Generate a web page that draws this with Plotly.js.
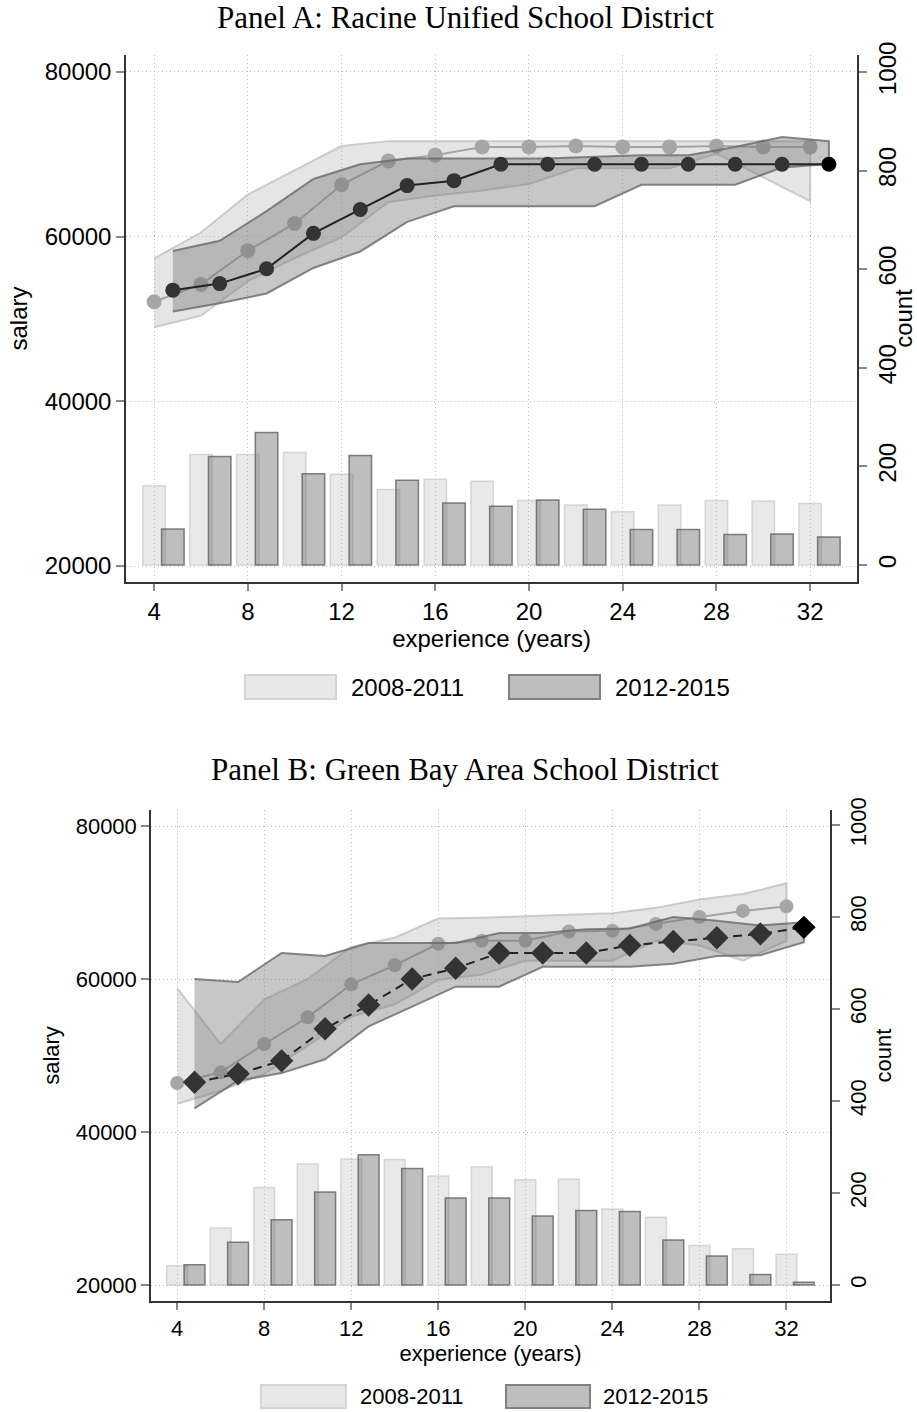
<!DOCTYPE html>
<html>
<head>
<meta charset="utf-8">
<script src="https://cdn.plot.ly/plotly-3.0.1.min.js"></script>
<style>html,body{margin:0;padding:0;background:#fff;}#chart{width:917px;height:1412px;}</style>
</head>
<body>
<div id="chart"></div>
<script>
// ---------- DATA ----------
const years0811 = [4,6,8,10,12,14,16,18,20,22,24,26,28,30,32];
const years1215 = [5,7,9,11,13,15,17,19,21,23,25,27,29,31,33];
const xTicks = [4,8,12,16,20,24,28,32];
const salaryTicks = [20000,40000,60000,80000];
const countTicks = [0,200,400,600,800,1000];
const periodLabels = ['2008-2011','2012-2015'];

// Panel A: Racine Unified School District
const aSal0811 = [52100,54200,58300,61600,66300,69200,69900,70900,70900,71000,70900,70900,71000,70900,70900];
const aLo0811  = [49000,50400,54600,57400,59900,64200,65000,65600,66400,68300,68300,68300,70100,67200,64300];
const aHi0811  = [57350,60500,65100,68000,71000,71600,71600,71600,71600,71600,71600,71600,71600,71600,71600];
const aSal1215 = [53500,54300,56100,60400,63300,66200,66800,68800,68800,68800,68800,68800,68800,68800,68800];
const aLo1215  = [50900,51900,53100,56200,58200,61800,63700,63700,63700,63700,66300,66300,66300,68400,68800];
const aHi1215  = [58250,59500,63100,67000,68800,69500,69500,69500,69500,69700,69900,69900,70900,72100,71600];
const aCount0811 = [161,224,224,228,184,153,174,170,131,122,108,122,131,130,125];
const aCount1215 = [73,220,269,185,222,172,126,119,132,113,72,72,62,63,57];

// Panel B: Green Bay Area School District
const bSal0811 = [46400,47800,51500,55000,59300,61800,64600,65000,65000,66200,66300,67200,68100,68900,69500];
const bLo0811  = [43700,45400,47600,51300,55100,56700,59900,60600,62400,62400,62400,65000,64400,62400,65000];
const bHi0811  = [58800,51500,57300,60000,64200,65400,67900,68000,68200,68400,68600,69300,70400,71100,72500];
const bSal1215 = [46500,47600,49300,53500,56600,60000,61400,63400,63400,63400,64400,64900,65400,65900,66750];
const bLo1215  = [43100,46700,47700,49500,53800,56400,59000,59000,61600,61600,61600,62000,63000,63100,64800];
const bHi1215  = [60000,59600,63400,63000,64700,64700,64700,66000,66000,66500,66600,68100,67600,67000,67400];
const bCount0811 = [42,124,212,263,274,273,237,257,229,230,165,147,86,79,67];
const bCount1215 = [44,93,142,202,283,253,189,189,150,162,160,98,63,23,6];

// ---------- STYLE ----------
const SHIFT_1215 = -0.2;           // display offset of the 2012-2015 series
const SANS = 'Liberation Sans, Arial, sans-serif';
const SERIF = 'Liberation Serif, Times New Roman, serif';
const W = 917, H = 1412;

const x1215 = years1215.map(v => v + SHIFT_1215);

function band(xs, lo, hi, fill, line, xa, ya) {
  return {
    type: 'scatter', mode: 'lines', xaxis: xa, yaxis: ya,
    x: xs.concat(xs.slice().reverse()),
    y: hi.concat(lo.slice().reverse()),
    fill: 'toself', fillcolor: fill,
    line: {color: line, width: 2}, hoverinfo: 'skip', showlegend: false
  };
}
function bars(xs, ys, fill, line, xa, ya) {
  return {type: 'bar', x: xs, y: ys, xaxis: xa, yaxis: ya, width: 0.96,
    marker: {color: fill, line: {color: line, width: 1.5}}, showlegend: false};
}
function lastBlack(arr, base) { return arr.map((_, i) => i === arr.length - 1 ? '#000' : base); }

const LIGHT_BAR = 'rgba(175,175,175,0.28)', LIGHT_BAR_LINE = 'rgba(190,190,190,0.55)';
const DARK_BAR = 'rgba(110,110,110,0.45)', DARK_BAR_LINE = 'rgba(90,90,90,0.75)';
const LIGHT_BAND = 'rgba(170,170,170,0.30)', LIGHT_BAND_LINE = 'rgba(195,195,195,0.85)';
const DARK_BAND = 'rgba(115,115,115,0.40)', DARK_BAND_LINE = 'rgba(105,105,105,0.8)';

function panel(xa, ya, yc, sal0811, lo0811, hi0811, sal1215, lo1215, hi1215, n0811, n1215, dashed) {
  return [
    bars(years0811, n0811, LIGHT_BAR, LIGHT_BAR_LINE, xa, yc),
    bars(x1215, n1215, DARK_BAR, DARK_BAR_LINE, xa, yc),
    band(years0811, lo0811, hi0811, LIGHT_BAND, LIGHT_BAND_LINE, xa, ya),
    {type: 'scatter', mode: 'lines+markers', x: years0811, y: sal0811, xaxis: xa, yaxis: ya,
      line: {color: '#a3a3a3', width: 2}, marker: {color: '#a6a6a6', size: dashed ? 14 : 15, symbol: 'circle'},
      showlegend: false},
    band(x1215, lo1215, hi1215, DARK_BAND, DARK_BAND_LINE, xa, ya),
    {type: 'scatter', mode: 'lines+markers', x: x1215, y: sal1215, xaxis: xa, yaxis: ya,
      line: {color: '#222', width: 2, dash: dashed ? '9px,6px' : 'solid'},
      marker: {color: lastBlack(sal1215, '#333'), size: dashed ? 18 : 15, symbol: dashed ? 'diamond' : 'circle'},
      showlegend: false}
  ];
}

const data = [].concat(
  panel('x', 'y', 'y2', aSal0811, aLo0811, aHi0811, aSal1215, aLo1215, aHi1215, aCount0811, aCount1215, false),
  panel('x2', 'y3', 'y4', bSal0811, bLo0811, bHi0811, bSal1215, bLo1215, bHi1215, bCount0811, bCount1215, true)
);

const GRID = {showgrid: true, gridcolor: '#bdbdbd', griddash: '1px,3px', gridwidth: 1};

function xAxis(domain, anchor, fs) {
  return Object.assign({domain: domain, anchor: anchor, range: [2.8, 34.0], tickvals: xTicks,
    showline: true, linecolor: '#333', linewidth: 1.5, zeroline: false,
    ticks: 'outside', ticklen: 7, tickwidth: 1.5, tickcolor: '#888',
    tickfont: {family: SANS, size: fs, color: '#000'},
    title: {text: 'experience (years)', font: {family: SANS, size: fs, color: '#000'}, standoff: 3},
    automargin: false}, GRID);
}
function salAxis(domain, anchor, range, fs) {
  return Object.assign({domain: domain, anchor: anchor, range: range, tickvals: salaryTicks, tickformat: 'd',
    showline: true, linecolor: '#333', linewidth: 1.5, zeroline: false,
    ticks: 'outside', ticklen: 8, tickwidth: 1.5, tickcolor: '#888',
    tickfont: {family: SANS, size: fs, color: '#000'},
    title: {text: 'salary', font: {family: SANS, size: fs, color: '#000'}, standoff: 10},
    automargin: false}, GRID);
}
function cntAxis(anchor, over, range, fs, standoff) {
  return {anchor: anchor, overlaying: over, side: 'right', range: range, tickvals: countTicks,
    tickangle: -90, showgrid: false, zeroline: false,
    showline: true, linecolor: '#333', linewidth: 1.5,
    ticks: 'outside', ticklen: 8, tickwidth: 1.5, tickcolor: '#888',
    tickfont: {family: SANS, size: fs, color: '#000'},
    title: {text: 'count', font: {family: SANS, size: fs, color: '#000'}, standoff: standoff},
    automargin: false};
}

const aDomX = [126 / W, 857 / W], aDomY = [1 - 582 / H, 1 - 55 / H];
const bDomX = [151 / W, 830 / W], bDomY = [1 - 1301 / H, 1 - 810 / H];

function legendKeys(y0, y1, l0, l1, d0, d1, t0, t1, fs) {
  const shapes = [
    {type: 'rect', xref: 'paper', yref: 'paper', x0: l0 / W, x1: l1 / W, y0: 1 - y1 / H, y1: 1 - y0 / H,
      fillcolor: '#e8e8e8', line: {color: '#d4d4d4', width: 2}},
    {type: 'rect', xref: 'paper', yref: 'paper', x0: d0 / W, x1: d1 / W, y0: 1 - y1 / H, y1: 1 - y0 / H,
      fillcolor: '#bebebe', line: {color: '#808080', width: 2}}
  ];
  const ann = [
    {xref: 'paper', yref: 'paper', x: t0 / W, y: 1 - (y0 + y1) / 2 / H, xanchor: 'left', yanchor: 'middle',
      text: periodLabels[0], showarrow: false, font: {family: SANS, size: fs, color: '#000'}},
    {xref: 'paper', yref: 'paper', x: t1 / W, y: 1 - (y0 + y1) / 2 / H, xanchor: 'left', yanchor: 'middle',
      text: periodLabels[1], showarrow: false, font: {family: SANS, size: fs, color: '#000'}}
  ];
  return {shapes, ann};
}
const legA = legendKeys(675, 699, 245, 336, 509, 600, 349, 613, 24);
const legB = legendKeys(1385, 1408, 261, 346, 506, 590, 358, 601, 22);

const layout = {
  width: W, height: H, margin: {l: 0, r: 0, t: 0, b: 0},
  paper_bgcolor: '#fff', plot_bgcolor: '#fff',
  barmode: 'overlay', showlegend: false,
  xaxis: xAxis(aDomX, 'y', 24),
  yaxis: salAxis(aDomY, 'x', [18060, 82060], 24),
  yaxis2: cntAxis('x', 'y', [-34.4, 1034.4], 24, 16),
  xaxis2: xAxis(bDomX, 'y3', 22),
  yaxis3: salAxis(bDomY, 'x2', [17908, 82092], 22),
  yaxis4: cntAxis('x2', 'y3', [-34.8, 1032.6], 22, 4),
  shapes: legA.shapes.concat(legB.shapes),
  annotations: [
    {xref: 'paper', yref: 'paper', x: 465 / W, y: 1 - 18 / H, xanchor: 'center', yanchor: 'middle',
      text: 'Panel A: Racine Unified School District', showarrow: false,
      font: {family: SERIF, size: 31, color: '#000'}},
    {xref: 'paper', yref: 'paper', x: 465 / W, y: 1 - 769 / H, xanchor: 'center', yanchor: 'middle',
      text: 'Panel B: Green Bay Area School District', showarrow: false,
      font: {family: SERIF, size: 31, color: '#000'}}
  ].concat(legA.ann, legB.ann)
};

Plotly.newPlot('chart', data, layout, {displayModeBar: false, responsive: false});
</script>
</body>
</html>
